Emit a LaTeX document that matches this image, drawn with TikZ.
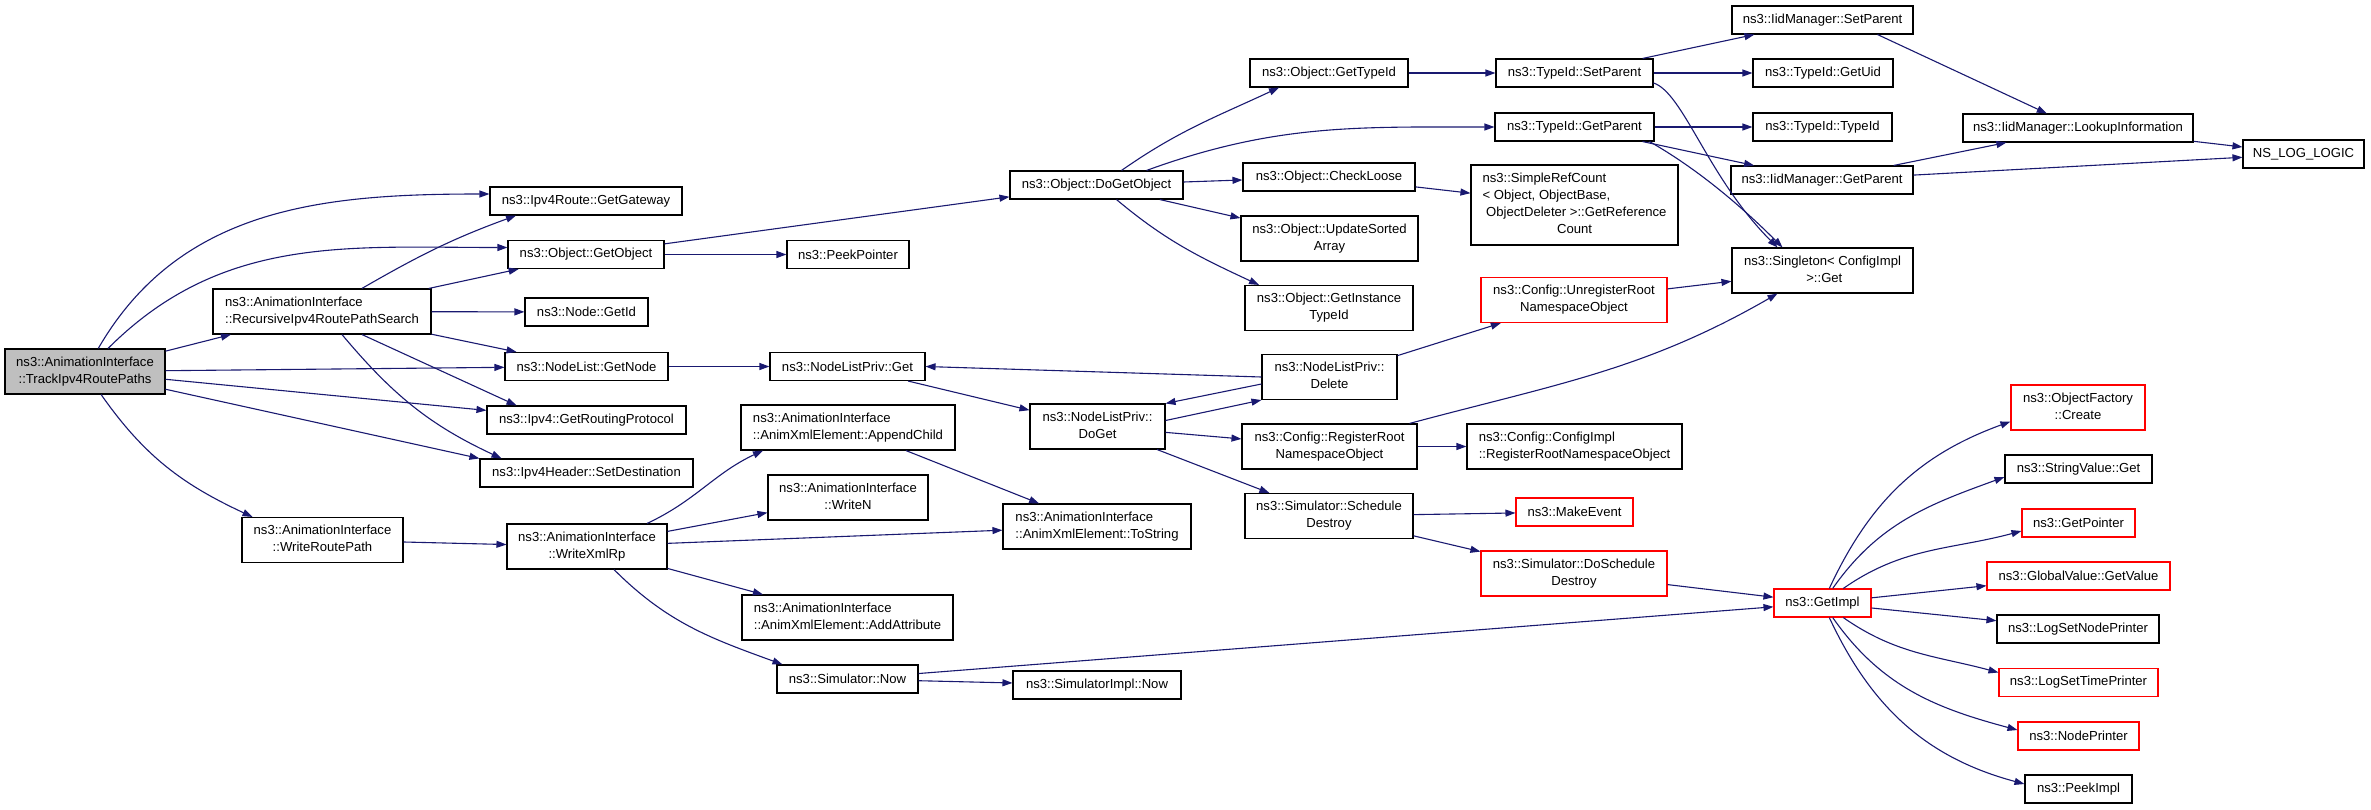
\documentclass[tikz,border=0pt]{standalone}
\usepackage{fontspec}
\setmainfont{Liberation Sans}
\usetikzlibrary{arrows.meta}
\definecolor{edgeblue}{HTML}{191970}
\newcommand\twoline[2]{\begin{tabular}{@{}l@{}}#1\\\multicolumn{1}{@{}c@{}}{#2}\end{tabular}}
\tikzset{
	fn/.style={draw=black, line width=1.1pt, fill=white, inner sep=0pt, minimum height=28pt, font=\fontsize{13.1}{17}\selectfont},
	fnred/.style={fn, draw=red},
	tall/.style={minimum height=45pt},
	call/.style={draw=edgeblue, line width=1.1pt, -{Triangle[length=10pt,width=7pt]}},
}

\begin{document}
\begin{tikzpicture}[x=1pt, y=1pt]
			%%%%% START %%%%%
			\useasboundingbox (0,0) rectangle (2371,-809);
			
			%% rank 0 - 2
			\node[fn, tall, fill=black!25, minimum width=160pt] (root) at (85,-371.5) {\twoline{ns3::AnimationInterface}{::TrackIpv4RoutePaths}};
			\node[fn, tall, minimum width=218pt] (recur) at (322,-311.5) {\twoline{ns3::AnimationInterface}{::RecursiveIpv4RoutePathSearch}};
			\node[fn, tall, minimum width=161pt] (wrp) at (322.5,-540) {\twoline{ns3::AnimationInterface}{::WriteRoutePath}};
			
			\node[fn, minimum width=192pt] (gateway) at (586,-201) {ns3::Ipv4Route::GetGateway};
			\node[fn, minimum width=156pt] (getobj) at (586,-254.5) {ns3::Object::GetObject};
			\node[fn, minimum width=123pt] (getid) at (586.5,-312) {ns3::Node::GetId};
			\node[fn, minimum width=163pt] (getnode) at (586.5,-366.5) {ns3::NodeList::GetNode};
			\node[fn, minimum width=199pt] (routing) at (586.5,-420) {ns3::Ipv4::GetRoutingProtocol};
			\node[fn, minimum width=213pt] (setdest) at (586.5,-473) {ns3::Ipv4Header::SetDestination};
			\node[fn, tall, minimum width=160pt] (xmlrp) at (587,-546.5) {\twoline{ns3::AnimationInterface}{::WriteXmlRp}};
			
			%% rank 3 - 4
			\node[fn, minimum width=122pt] (peek) at (848,-254.5) {ns3::PeekPointer};
			\node[fn, minimum width=155pt] (nlget) at (847.5,-366.5) {ns3::NodeListPriv::Get};
			\node[fn, tall, minimum width=214pt] (append) at (848,-427.5) {\twoline{ns3::AnimationInterface}{::AnimXmlElement::AppendChild}};
			\node[fn, tall, minimum width=160pt] (writen) at (848,-497.5) {\twoline{ns3::AnimationInterface}{::WriteN}};
			\node[fn, tall, minimum width=211pt] (addattr) at (847.5,-617.5) {\twoline{ns3::AnimationInterface}{::AnimXmlElement::AddAttribute}};
			\node[fn, minimum width=141pt] (simnow) at (847.5,-679) {ns3::Simulator::Now};
			
			\node[fn, minimum width=173pt] (dogetobj) at (1096.5,-185) {ns3::Object::DoGetObject};
			\node[fn, tall, minimum width=135pt] (doget) at (1097.5,-426.5) {\twoline{ns3::NodeListPriv::}{DoGet}};
			\node[fn, tall, minimum width=188pt] (tostring) at (1097,-526.5) {\twoline{ns3::AnimationInterface}{::AnimXmlElement::ToString}};
			\node[fn, minimum width=168pt] (simimpl) at (1097,-685) {ns3::SimulatorImpl::Now};
			
			%% rank 5 - 6
			\node[fn, minimum width=158pt] (gettypeid) at (1329,-73) {ns3::Object::GetTypeId};
			\node[fn, minimum width=172pt] (checkloose) at (1329,-177) {ns3::Object::CheckLoose};
			\node[fn, tall, minimum width=177pt] (updsorted) at (1329.5,-238.5) {\twoline{ns3::Object::UpdateSorted}{Array}};
			\node[fn, tall, minimum width=168pt] (instypeid) at (1329,-308) {\twoline{ns3::Object::GetInstance}{TypeId}};
			\node[fn, tall, minimum width=135pt] (delete) at (1329.5,-377) {\twoline{ns3::NodeListPriv::}{Delete}};
			\node[fn, tall, minimum width=175pt] (regroot) at (1329.5,-446.5) {\twoline{ns3::Config::RegisterRoot}{NamespaceObject}};
			\node[fn, tall, minimum width=168pt] (schedule) at (1329,-516) {\twoline{ns3::Simulator::Schedule}{Destroy}};
			
			\node[fn, minimum width=157pt] (setparent) at (1574.5,-73) {ns3::TypeId::SetParent};
			\node[fn, minimum width=159pt] (getparent) at (1574.5,-127) {ns3::TypeId::GetParent};
			\node[fn, minimum width=207pt, minimum height=80pt] (simpleref) at (1574.5,-205) {\twoline{ns3::SimpleRefCount\\< Object, ObjectBase,\\\ ObjectDeleter >::GetReference}{Count}};
			\node[fnred, tall, minimum width=186pt] (unreg) at (1574,-300) {\twoline{ns3::Config::UnregisterRoot}{NamespaceObject}};
			\node[fn, tall, minimum width=215pt] (cfgimpl) at (1574.5,-446.5) {\twoline{ns3::Config::ConfigImpl}{::RegisterRootNamespaceObject}};
			\node[fnred, minimum width=117pt] (makeevent) at (1574.5,-512) {ns3::MakeEvent};
			\node[fnred, tall, minimum width=186pt] (dosched) at (1574,-573.5) {\twoline{ns3::Simulator::DoSchedule}{Destroy}};
			
			%% rank 7 - 9
			\node[fn, minimum width=181pt] (iidsetparent) at (1822.5,-20) {ns3::IidManager::SetParent};
			\node[fn, minimum width=140pt] (getuid) at (1823,-73) {ns3::TypeId::GetUid};
			\node[fn, minimum width=139pt] (typeidtypeid) at (1822.5,-127) {ns3::TypeId::TypeId};
			\node[fn, minimum width=182pt] (iidgetparent) at (1822,-180) {ns3::IidManager::GetParent};
			\node[fn, tall, minimum width=181pt] (singleton) at (1822.5,-270.5) {\twoline{ns3::Singleton< ConfigImpl}{\ >::Get}};
			\node[fnred, minimum width=97pt] (getimpl) at (1822.5,-603) {ns3::GetImpl};
			
			\node[fn, minimum width=230pt] (lookup) at (2078,-128) {ns3::IidManager::LookupInformation};
			\node[fnred, tall, minimum width=134pt] (create) at (2078,-407.5) {\twoline{ns3::ObjectFactory}{::Create}};
			\node[fn, minimum width=147pt] (strget) at (2078.5,-469) {ns3::StringValue::Get};
			\node[fnred, minimum width=113pt] (getpointer) at (2078.5,-523) {ns3::GetPointer};
			\node[fnred, minimum width=183pt] (globalval) at (2078.5,-576) {ns3::GlobalValue::GetValue};
			\node[fn, minimum width=162pt] (lognode) at (2078,-629) {ns3::LogSetNodePrinter};
			\node[fnred, minimum width=159pt] (logtime) at (2078.5,-682.5) {ns3::LogSetTimePrinter};
			\node[fnred, minimum width=121pt] (nodeprinter) at (2078.5,-736) {ns3::NodePrinter};
			\node[fn, minimum width=107pt] (peekimpl) at (2078.5,-789) {ns3::PeekImpl};
			
			\node[fn, minimum width=121pt] (nslog) at (2303.5,-154) {NS\_LOG\_LOGIC};
			
			%% calls out of the root
			\draw[call] (root) to[out=60,in=180] ([yshift=7pt]gateway.west);
			\draw[call] (root) to[out=45,in=180] ([yshift=7pt]getobj.west);
			\draw[call] (root) -- (recur);
			\draw[call] (root) -- (getnode);
			\draw[call] (root) -- (routing);
			\draw[call] (root) -- (setdest.north west);
			\draw[call] (root) to[out=-55,in=155] ([xshift=-70pt]wrp.north);
			
			\draw[call] (recur) to[out=30,in=200] ([xshift=-70pt]gateway.south);
			\draw[call] (recur) -- (getobj);
			\draw[call] (recur) -- (getid);
			\draw[call] (recur) -- (getnode);
			\draw[call] ([xshift=40pt]recur.south) -- ([xshift=-70pt]routing.north);
			\draw[call] ([xshift=20pt]recur.south) to[out=-50,in=155] ([xshift=-85pt]setdest.north);
			\draw[call] (wrp) -- (xmlrp);
			
			\draw[call] (getobj) -- (dogetobj);
			\draw[call] (getobj) -- (peek);
			\draw[call] (getnode) -- (nlget);
			\draw[call] ([xshift=60pt]xmlrp.north) to[out=25,in=205] ([xshift=-85pt]append.south);
			\draw[call] (xmlrp) -- (writen);
			\draw[call] (xmlrp) -- (tostring);
			\draw[call] (xmlrp) -- (addattr);
			\draw[call] ([xshift=27pt]xmlrp.south) to[out=-45,in=160] ([xshift=-65pt]simnow.north);
			
			\draw[call] (append) -- (tostring);
			\draw[call] (nlget) -- (doget);
			\draw[call] (simnow) -- (getimpl);
			\draw[call] (simnow) -- (simimpl);
			
			%% object lookup
			\draw[call] ([xshift=25pt]dogetobj.north) to[out=35,in=205] ([xshift=-50pt]gettypeid.south);
			\draw[call] ([xshift=50pt]dogetobj.north) to[out=20,in=180] (getparent.west);
			\draw[call] (dogetobj) -- (checkloose);
			\draw[call] (dogetobj) -- (updsorted);
			\draw[call] ([xshift=20pt]dogetobj.south) to[out=-40,in=155] ([xshift=-70pt]instypeid.north);
			
			\draw[call] ([yshift=6pt]doget.east) -- (delete.south west);
			\draw[call] ([yshift=-7pt]delete.west) -- (doget.north east);
			\draw[call] (delete.west) -- (nlget.east);
			\draw[call] (delete) -- (unreg);
			\draw[call] (doget) -- (regroot);
			\draw[call] (doget) -- (schedule);
			\draw[call] (checkloose) -- (simpleref);
			
			\draw[call] (gettypeid) -- (setparent);
			\draw[call] (setparent) -- (iidsetparent);
			\draw[call] (setparent) -- (getuid);
			\draw[call] ([yshift=-10pt]setparent.east) .. controls +(30,-10) and +(-70,70) .. ([xshift=-45pt]singleton.north);
			\draw[call] (getparent) -- (typeidtypeid);
			\draw[call] (getparent) -- (iidgetparent);
			\draw[call] ([xshift=75pt]getparent.south) .. controls +(35,-20) and +(-55,55) .. ([xshift=-40pt]singleton.north);
			\draw[call] (unreg) -- (singleton);
			\draw[call] ([xshift=80pt]regroot.north) to[out=15,in=210] ([xshift=-45pt]singleton.south);
			\draw[call] (regroot) -- (cfgimpl);
			\draw[call] (schedule) -- (makeevent);
			\draw[call] (schedule) -- (dosched);
			\draw[call] (dosched) -- (getimpl);
			
			\draw[call] ([xshift=55pt]iidsetparent.south) -- (lookup);
			\draw[call] (iidgetparent) -- (lookup);
			\draw[call] (iidgetparent) -- (nslog);
			\draw[call] (lookup) -- (nslog);
			
			%% fan out of GetImpl
			\draw[call] (getimpl) to[out=65,in=200] ([yshift=-14pt]create.west);
			\draw[call] (getimpl) to[out=55,in=200] ([yshift=-8pt]strget.west);
			\draw[call] (getimpl) to[out=35,in=195] ([yshift=-8pt]getpointer.west);
			\draw[call] (getimpl) -- (globalval);
			\draw[call] (getimpl) -- (lognode);
			\draw[call] (getimpl) to[out=-35,in=165] ([yshift=10pt]logtime.west);
			\draw[call] (getimpl) to[out=-55,in=165] ([yshift=6pt]nodeprinter.west);
			\draw[call] (getimpl) to[out=-65,in=165] ([yshift=5pt]peekimpl.west);
			
			%%%%% END %%%%%
\end{tikzpicture}
\end{document}
